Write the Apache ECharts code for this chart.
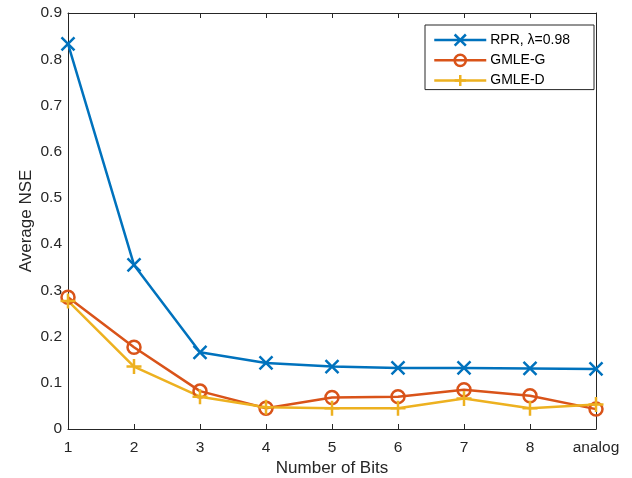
<!DOCTYPE html>
<html><head><meta charset="utf-8">
<script src="https://cdn.jsdelivr.net/npm/echarts@6/dist/echarts.min.js"></script>
<style>html,body{margin:0;padding:0;background:#fff}#c{width:632px;height:478px}</style>
</head><body><div id="c"></div>
<script>
const categories = ['1','2','3','4','5','6','7','8','analog'];
const rpr = [0.833, 0.355, 0.166, 0.143, 0.135, 0.132, 0.132, 0.131, 0.130];
const gmleG = [0.285, 0.177, 0.082, 0.045, 0.068, 0.070, 0.085, 0.072, 0.043];
const gmleD = [0.277, 0.135, 0.070, 0.047, 0.045, 0.045, 0.066, 0.045, 0.053];
const seriesNames = ['RPR, λ=0.98', 'GMLE-G', 'GMLE-D'];
const yTicks = [0, 0.1, 0.2, 0.3, 0.4, 0.5, 0.6, 0.7, 0.8, 0.9];

const FONT = 'Liberation Sans, Arial, Helvetica, sans-serif';
const TXT = '#262626';
const colors = ['#0072BD', '#D95319', '#EDB120'];
const xPath = 'path://M0,0 L10,10 M10,0 L0,10';
const plusPath = 'path://M5,0 L5,10 M0,5 L10,5';
const circlePath = 'path://M10,5 A5,5 0 1,1 0,5 A5,5 0 1,1 10,5 Z';

const chart = echarts.init(document.getElementById('c'), null, {renderer: 'canvas'});
function mk(name, data, color, symbol, size) {
  return {
    name, type: 'line', data, symbol, symbolSize: size, showAllSymbol: true,
    lineStyle: {color, width: 2.5},
    itemStyle: {color: 'none', borderColor: color, borderWidth: 2.5},
    emphasis: {disabled: true}, animation: false, z: 3
  };
}
const tickCommon = {inside: true, length: 5, lineStyle: {color: TXT, width: 1}};
chart.setOption({
  animation: false,
  color: colors,
  grid: {left: 68, right: 36, top: 13, bottom: 49, containLabel: false, outerBoundsMode: 'none'},
  legend: {
    orient: 'vertical', left: 425, top: 25,
    data: seriesNames,
    itemWidth: 52, itemHeight: 14, itemGap: 4,
    padding: [7, 24, 1, 8],
    borderColor: TXT, borderWidth: 1, backgroundColor: '#fff',
    lineStyle: {width: 2.5},
    itemStyle: {borderWidth: 2.5},
    textStyle: {fontFamily: FONT, fontSize: 14, color: '#000', padding: [0,0,0,-1]},
    selectedMode: false
  },
  xAxis: [{
    type: 'category', data: categories, boundaryGap: false,
    name: 'Number of Bits', nameLocation: 'middle', nameGap: 31, nameMoveOverlap: false,
    nameTextStyle: {fontFamily: FONT, fontSize: 17, color: TXT},
    axisLine: {onZero: false, lineStyle: {color: TXT, width: 1}},
    axisTick: Object.assign({alignWithLabel: true}, tickCommon),
    axisLabel: {fontFamily: FONT, fontSize: 15.5, color: TXT, margin: 11, interval: 0},
    splitLine: {show: false}
  }, {
    type: 'category', data: categories, boundaryGap: false, position: 'top',
    axisLine: {onZero: false, lineStyle: {color: TXT, width: 1}},
    axisTick: tickCommon, axisLabel: {show: false}, splitLine: {show: false}
  }],
  yAxis: [{
    type: 'value', min: 0, max: 0.9, interval: 0.1,
    name: 'Average NSE', nameLocation: 'middle', nameGap: 33, nameMoveOverlap: false,
    nameTextStyle: {fontFamily: FONT, fontSize: 17, color: TXT},
    axisLine: {show: true, onZero: false, lineStyle: {color: TXT, width: 1}},
    axisTick: tickCommon,
    axisLabel: {fontFamily: FONT, fontSize: 15.5, color: TXT, margin: 6,
      formatter: v => { const t = yTicks.find(k => Math.abs(k - v) < 1e-9); return t === undefined ? '' : String(t); }},
    splitLine: {show: false}
  }, {
    type: 'value', min: 0, max: 0.9, interval: 0.1, position: 'right',
    axisLine: {show: true, onZero: false, lineStyle: {color: TXT, width: 1}},
    axisTick: tickCommon, axisLabel: {show: false}, splitLine: {show: false}
  }],
  series: [
    mk(seriesNames[0], rpr, colors[0], xPath, 13),
    mk(seriesNames[1], gmleG, colors[1], circlePath, 13),
    mk(seriesNames[2], gmleD, colors[2], plusPath, 15)
  ]
});
</script></body></html>
